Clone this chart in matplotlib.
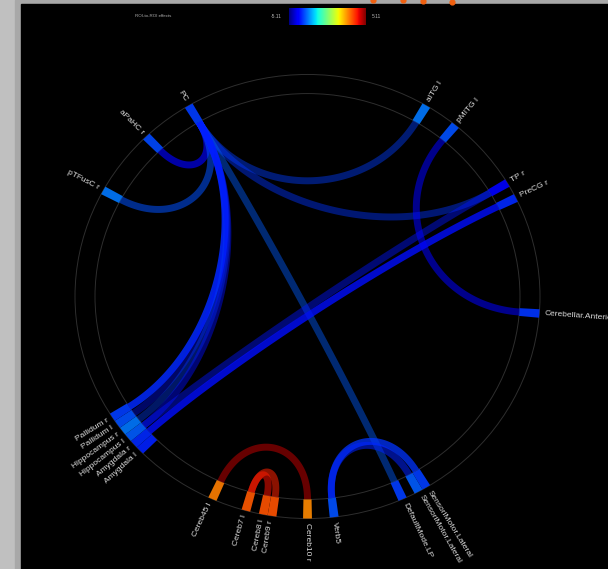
import numpy as np
import matplotlib
matplotlib.use('Agg')
import matplotlib.pyplot as plt
from matplotlib.patches import Rectangle, Polygon, Ellipse
from matplotlib.colors import Normalize

plt.rcParams['font.family'] = ['Liberation Sans', 'DejaVu Sans']

# ring layout: 164 slots, ROI -> slot index (clockwise from top)
n_slots = 164
roi_names = ['aITG l', 'pMITG l', 'TP r', 'PreCG r', 'Cerebellar.Anterior',
             'SensoriMotor.Lateral', 'SensoriMotor.Lateral ', 'DefaultMode.LP',
             'Verb5', 'Cereb10 r', 'Cereb9 r', 'Cereb8 l', 'Cereb7 l', 'Cereb45 l',
             'Amygdala l', 'Amygdala r', 'Hippocampus l', 'Hippocampus r',
             'Pallidum l', 'Pallidum r', 'pTFusC r', 'aPaHC r', 'PC']
roi_slots = [14, 18, 27, 29, 43, 68, 69, 71, 79, 82, 86, 87, 89, 93,
             103, 104, 105, 106, 107, 108, 136, 144, 150]
roi_t = [-2.6, -3.0, -3.8, -3.4, -3.3, -3.2, -2.9, -3.2, -3.0, 2.7, 3.3, 3.3, 3.2, 2.8,
         -3.5, -3.4, -2.9, -2.6, -3.0, -3.2, -2.6, -3.1, -3.2]

# ROI-to-ROI connections
edge_src = ['PC', 'PC', 'PC', 'PC', 'PC', 'PC', 'PC', 'PC', 'PC',
            'TP r', 'PreCG r', 'pMITG l', 'Verb5', 'Verb5',
            'Cereb45 l', 'Cereb7 l', 'Cereb7 l']
edge_dst = ['aPaHC r', 'pTFusC r', 'aITG l', 'TP r', 'DefaultMode.LP',
            'Pallidum r', 'Pallidum l', 'Hippocampus r', 'Hippocampus l',
            'Hippocampus l', 'Amygdala r', 'Cerebellar.Anterior',
            'SensoriMotor.Lateral', 'SensoriMotor.Lateral ',
            'Cereb10 r', 'Cereb8 l', 'Cereb9 r']
edge_t = [-3.9, -3.0, -3.2, -3.3, -2.9, -3.4, -3.6, -3.2, -3.7,
          -3.6, -3.7, -3.8, -3.3, -3.5, 4.7, 4.0, 3.8]
edge_alpha = [0.65, 0.55, 0.45, 0.45, 0.45, 0.85, 0.4, 0.4, 0.45,
              0.45, 0.8, 0.55, 0.75, 0.55, 0.6, 0.55, 0.55]

t_lim = 5.11
cmap = plt.get_cmap('jet')
norm = Normalize(-t_lim, t_lim)

W, H = 608, 569
cx, cy, sy = 307.5, 296.5, 0.955
r_in, r_out, r_lab = 212.5, 232.5, 237.5


def slot_angle(k):
    return np.deg2rad(90 - k * 360.0 / n_slots)


def ring_point(a, r):
    return cx + r * np.cos(a), cy - sy * r * np.sin(a)


def edge_path(a1, a2, npts=120):
    # cubic bezier, control points pulled toward the centre (less for close ROIs)
    d = np.rad2deg(abs((a1 - a2 + np.pi) % (2 * np.pi) - np.pi))
    f = 0.45 + 0.47 * np.exp(-d / 40.0)
    p0 = np.array(ring_point(a1, r_in))
    p3 = np.array(ring_point(a2, r_in))
    c = np.array([cx, cy])
    p1 = c + f * (p0 - c)
    p2 = c + f * (p3 - c)
    s = np.linspace(0, 1, npts)[:, None]
    pts = ((1 - s) ** 3) * p0 + 3 * ((1 - s) ** 2) * s * p1 + 3 * (1 - s) * s ** 2 * p2 + s ** 3 * p3
    return pts[:, 0], pts[:, 1]


fig = plt.figure(figsize=(W / 100, H / 100), dpi=100)
fig.patch.set_facecolor('#c0c0c0')
ax = fig.add_axes([0, 0, 1, 1])
ax.set_xlim(0, W)
ax.set_ylim(H, 0)
ax.axis('off')

ax.add_patch(Rectangle((15, 0), W - 15, H, color='#a8a8a8', zorder=0))
ax.add_patch(Rectangle((21, 4), W - 21, H - 4, color='black', zorder=0))

# clipped markers from the panel above
ax.scatter([373, 403, 423, 452], [0, 0, 1, 2], s=12, color='#f06010', zorder=1)

for r in (r_in, r_out):
    ax.add_patch(Ellipse((cx, cy), 2 * r, 2 * r * sy, fill=False, ec='#2e2e2e', lw=0.7, zorder=1))

slot_of = dict(zip(roi_names, roi_slots))

for s, d, t, al in zip(edge_src, edge_dst, edge_t, edge_alpha):
    xs, ys = edge_path(slot_angle(slot_of[s]), slot_angle(slot_of[d]))
    ax.plot(xs, ys, color=cmap(norm(t)), alpha=al, lw=5, solid_capstyle='butt', zorder=2)

half = np.deg2rad(180.0 / n_slots)
for name, k, t in zip(roi_names, roi_slots, roi_t):
    a = slot_angle(k)
    aa = np.linspace(a - half, a + half, 8)
    outer = [ring_point(v, r_out) for v in aa]
    inner = [ring_point(v, r_in) for v in aa[::-1]]
    rgb = np.array(cmap(norm(t))[:3]) * 0.9
    ax.add_patch(Polygon(outer + inner, closed=True, color=rgb, lw=0, zorder=3))
    deg = np.rad2deg(np.arctan2(sy * np.sin(a), np.cos(a)))
    lx, ly = ring_point(a, r_lab)
    if -90 <= deg <= 90:
        rot, ha = deg, 'left'
    else:
        rot, ha = deg + 180, 'right'
    ax.text(lx, ly, name.strip(), rotation=rot, ha=ha, va='center', rotation_mode='anchor',
            fontsize=6, color='#dcdcdc', zorder=4)

# colour scale
cax = fig.add_axes([289 / W, 1 - 25 / H, 77 / W, 17 / H])
cax.imshow(np.linspace(0, 1, 256)[None, :], aspect='auto', cmap=cmap)
cax.axis('off')
fig.text(135 / W, 1 - 16 / H, 'ROI-to-ROI effects', fontsize=3.2, color='#b0b0b0', va='center')
fig.text(282 / W, 1 - 16 / H, '-%.2f' % t_lim, fontsize=3.6, color='#b0b0b0', va='center', ha='right')
fig.text(372 / W, 1 - 16 / H, '%.2f' % t_lim, fontsize=3.6, color='#b0b0b0', va='center')

fig.savefig('out.png', dpi=100, facecolor=fig.get_facecolor())
